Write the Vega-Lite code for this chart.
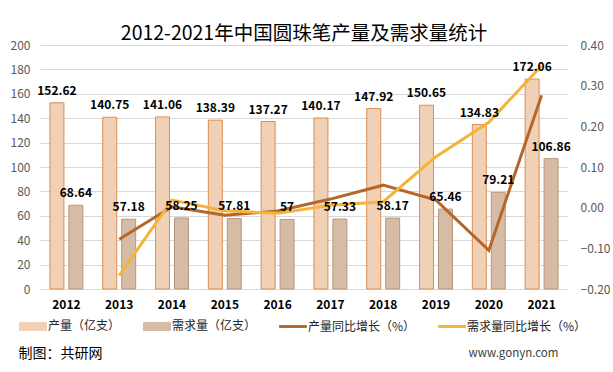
{
  "$schema": "https://vega.github.io/schema/vega-lite/v6.json",
  "width": 528,
  "height": 244,
  "autosize": {"type": "none"},
  "padding": {"left": 40, "top": 45, "right": 45, "bottom": 83},
  "background": "white",
  "config": {
    "font": "Noto Sans CJK SC",
    "view": {"stroke": null},
    "axis": {"labelFont": "Noto Sans CJK SC", "titleFont": "Noto Sans CJK SC"},
    "legend": {"labelFont": "Noto Sans CJK SC"}
  },
  "title": {
    "text": "2012-2021年中国圆珠笔产量及需求量统计",
    "fontSize": 19.5,
    "fontWeight": "normal",
    "color": "#000000",
    "anchor": "middle",
    "offset": -5
  },
  "datasets": {
    "bars": [
      {"year": "2012", "series": "产量（亿支）", "value": 152.62},
      {"year": "2013", "series": "产量（亿支）", "value": 140.75},
      {"year": "2014", "series": "产量（亿支）", "value": 141.06},
      {"year": "2015", "series": "产量（亿支）", "value": 138.39},
      {"year": "2016", "series": "产量（亿支）", "value": 137.27},
      {"year": "2017", "series": "产量（亿支）", "value": 140.17},
      {"year": "2018", "series": "产量（亿支）", "value": 147.92},
      {"year": "2019", "series": "产量（亿支）", "value": 150.65},
      {"year": "2020", "series": "产量（亿支）", "value": 134.83},
      {"year": "2021", "series": "产量（亿支）", "value": 172.06},
      {"year": "2012", "series": "需求量（亿支）", "value": 68.64},
      {"year": "2013", "series": "需求量（亿支）", "value": 57.18},
      {"year": "2014", "series": "需求量（亿支）", "value": 58.25},
      {"year": "2015", "series": "需求量（亿支）", "value": 57.81},
      {"year": "2016", "series": "需求量（亿支）", "value": 57},
      {"year": "2017", "series": "需求量（亿支）", "value": 57.33},
      {"year": "2018", "series": "需求量（亿支）", "value": 58.17},
      {"year": "2019", "series": "需求量（亿支）", "value": 65.46},
      {"year": "2020", "series": "需求量（亿支）", "value": 79.21},
      {"year": "2021", "series": "需求量（亿支）", "value": 106.86}
    ],
    "lines": [
      {"year": "2013", "series": "产量同比增长（%）", "rate": -0.0778},
      {"year": "2014", "series": "产量同比增长（%）", "rate": 0.0022},
      {"year": "2015", "series": "产量同比增长（%）", "rate": -0.0189},
      {"year": "2016", "series": "产量同比增长（%）", "rate": -0.0081},
      {"year": "2017", "series": "产量同比增长（%）", "rate": 0.0211},
      {"year": "2018", "series": "产量同比增长（%）", "rate": 0.0553},
      {"year": "2019", "series": "产量同比增长（%）", "rate": 0.0185},
      {"year": "2020", "series": "产量同比增长（%）", "rate": -0.105},
      {"year": "2021", "series": "产量同比增长（%）", "rate": 0.2761},
      {"year": "2013", "series": "需求量同比增长（%）", "rate": -0.167},
      {"year": "2014", "series": "需求量同比增长（%）", "rate": 0.0187},
      {"year": "2015", "series": "需求量同比增长（%）", "rate": -0.0076},
      {"year": "2016", "series": "需求量同比增长（%）", "rate": -0.014},
      {"year": "2017", "series": "需求量同比增长（%）", "rate": 0.0058},
      {"year": "2018", "series": "需求量同比增长（%）", "rate": 0.0147},
      {"year": "2019", "series": "需求量同比增长（%）", "rate": 0.1253},
      {"year": "2020", "series": "需求量同比增长（%）", "rate": 0.2101},
      {"year": "2021", "series": "需求量同比增长（%）", "rate": 0.3491}
    ]
  },
  "encoding": {
    "x": {
      "field": "year",
      "type": "ordinal",
      "scale": {"paddingInner": 0, "paddingOuter": 0},
      "axis": {
        "labelAngle": 0,
        "labelFontWeight": "bold",
        "labelFontSize": 12,
        "labelColor": "#000000",
        "labelPadding": 10,
        "domain": false,
        "ticks": false,
        "grid": false,
        "title": "制图：共研网",
        "titleX": -22,
        "titleY": 64,
        "titleAlign": "left",
        "titleBaseline": "middle",
        "titleFontSize": 14,
        "titleFontWeight": "normal",
        "titleColor": "#000000"
      }
    }
  },
  "layer": [
    {
      "data": {"name": "bars"},
      "mark": {"type": "bar", "strokeWidth": 1},
      "encoding": {
        "xOffset": {
          "field": "series",
          "type": "nominal",
          "scale": {"domain": ["产量（亿支）", "需求量（亿支）"], "paddingInner": 0.263, "paddingOuter": 0.525}
        },
        "y": {
          "field": "value",
          "type": "quantitative",
          "scale": {"domain": [0, 200]},
          "axis": {
            "values": [0, 20, 40, 60, 80, 100, 120, 140, 160, 180, 200],
            "title": null,
            "grid": true,
            "domain": false,
            "ticks": false,
            "labelFontSize": 12,
            "labelColor": "#595959",
            "labelPadding": 10,
            "gridColor": "#D9D9D9",
            "gridWidth": 1
          }
        },
        "color": {
          "field": "series",
          "type": "nominal",
          "scale": {
            "domain": ["产量（亿支）", "需求量（亿支）", "产量同比增长（%）", "需求量同比增长（%）"],
            "range": ["#F1D1B6", "#D6BBA5", "#B5662C", "#F4B43A"]
          },
          "legend": {
            "title": null,
            "orient": "none",
            "legendX": -21,
            "legendY": 267,
            "direction": "horizontal",
            "columns": 4,
            "columnPadding": 20,
            "labelFontSize": 12,
            "labelColor": "#262626",
            "labelOffset": 1,
            "symbolSize": 729,
            "symbolStrokeWidth": 1,
            "encode": {
              "symbols": {
                "update": {
                  "shape": {"signal": "indexof(['产量（亿支）','需求量（亿支）'], datum.value) >= 0 ? 'M-1,-0.3H1V0.3H-1Z' : 'M-1,-0.07H1V0.07H-1Z'"},
                  "fill": {"signal": "datum.value == '产量（亿支）' ? '#F1D1B6' : datum.value == '需求量（亿支）' ? '#D6BBA5' : datum.value == '产量同比增长（%）' ? '#B5662C' : '#F4B43A'"},
                  "stroke": {"signal": "datum.value == '产量（亿支）' ? '#DA8E53' : datum.value == '需求量（亿支）' ? '#B9977C' : datum.value == '产量同比增长（%）' ? '#B5662C' : '#F4B43A'"},
                  "opacity": {"value": 1}
                }
              }
            }
          }
        },
        "stroke": {
          "field": "series",
          "type": "nominal",
          "scale": {"domain": ["产量（亿支）", "需求量（亿支）"], "range": ["#DA8E53", "#B9977C"]},
          "legend": null
        }
      }
    },
    {
      "data": {"name": "lines"},
      "mark": {"type": "line", "strokeWidth": 3},
      "encoding": {
        "y": {
          "field": "rate",
          "type": "quantitative",
          "scale": {"domain": [-0.2, 0.4]},
          "axis": {
            "orient": "right",
            "values": [-0.2, -0.1, 0, 0.1, 0.2, 0.3, 0.4],
            "format": ".2f",
            "grid": false,
            "domain": false,
            "ticks": false,
            "labelFontSize": 12,
            "labelColor": "#595959",
            "labelPadding": 12,
            "title": "www.gonyn.com",
            "titleAngle": 0,
            "titleX": -100,
            "titleY": 308,
            "titleAlign": "left",
            "titleBaseline": "middle",
            "titleFontSize": 11.5,
            "titleFontWeight": "normal",
            "titleColor": "#404040"
          }
        },
        "color": {"field": "series", "type": "nominal"}
      }
    },
    {
      "data": {"name": "bars"},
      "mark": {"type": "text", "fontWeight": "bold", "fontSize": 12, "color": "#000000", "dy": -12, "baseline": "middle"},
      "encoding": {
        "xOffset": {
          "field": "series",
          "type": "nominal",
          "scale": {"domain": ["产量（亿支）", "需求量（亿支）"], "paddingInner": 0.263, "paddingOuter": 0.525}
        },
        "y": {"field": "value", "type": "quantitative", "scale": {"domain": [0, 200]}, "axis": null},
        "text": {"field": "value", "type": "nominal"}
      }
    }
  ],
  "resolve": {"scale": {"y": "independent"}}
}
